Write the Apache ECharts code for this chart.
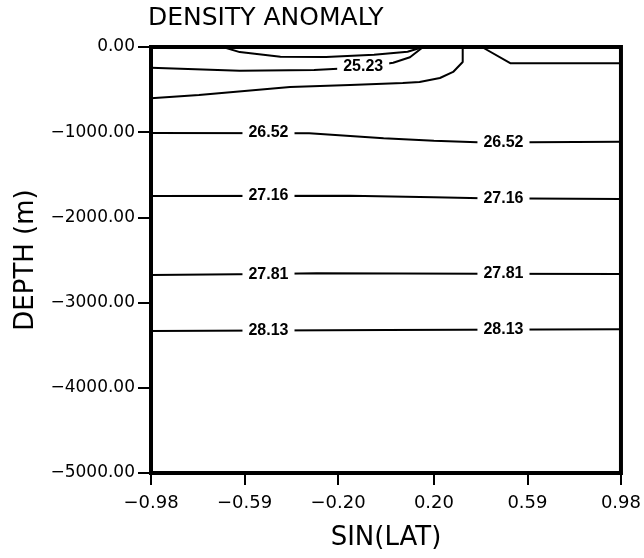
<!DOCTYPE html>
<html>
<head>
<meta charset="utf-8">
<script src="https://cdn.jsdelivr.net/npm/echarts@6/dist/echarts.min.js"></script>
<style>
  html, body { margin: 0; padding: 0; background: #fff; }
  #chart { width: 644px; height: 558px; }
</style>
</head>
<body>
<div id="chart"></div>
<script>
// Axis ticks
const xTicks = [-0.98, -0.59, -0.20, 0.20, 0.59, 0.98];
const depthMin = -5000;
const depthMax = 0;
const depthStep = 1000;

// Contour polylines, points are [sin(lat), depth in m]
const contourSurfaceA = [[-0.68, 0], [-0.61, -60], [-0.44, -115], [-0.25, -117], [-0.05, -90], [0.09, -55], [0.155, 0]];
const contour2523 = [[-0.98, -245], [-0.61, -278], [-0.30, -270], [-0.10, -240], [0.03, -185], [0.10, -120], [0.155, 0]];
const contourSurfaceB = [[-0.98, -602], [-0.78, -563], [-0.40, -470], [-0.15, -446], [0.07, -423], [0.14, -411], [0.225, -364], [0.28, -293], [0.32, -176], [0.32, 0]];
const contourNorth = [[0.40, 0], [0.52, -192], [0.98, -192]];
const contour2652 = [[-0.98, -1010], [-0.32, -1013], [-0.01, -1072], [0.20, -1100], [0.38, -1119], [0.60, -1119], [0.98, -1111]];
const contour2716 = [[-0.98, -1748], [-0.15, -1746], [0.20, -1764], [0.40, -1776], [0.98, -1785]];
const contour2781 = [[-0.98, -2675], [-0.50, -2665], [-0.29, -2656], [0.40, -2662], [0.98, -2664]];
const contour2813 = [[-0.98, -3333], [0.0, -3322], [0.98, -3314]];

// Inline contour labels: [text, sin(lat), depth]
const contourLabels = [
  ['25.23', -0.095, -235],
  ['26.52', -0.49, -1010],
  ['26.52', 0.49, -1124],
  ['27.16', -0.49, -1746],
  ['27.16', 0.49, -1778],
  ['27.81', -0.49, -2667],
  ['27.81', 0.49, -2662],
  ['28.13', -0.49, -3330],
  ['28.13', 0.49, -3316]
];

const contours = [contourSurfaceA, contour2523, contourSurfaceB, contourNorth,
                  contour2652, contour2716, contour2781, contour2813];

const fmt = v => (v < 0 ? '\u2212' : '') + Math.abs(v).toFixed(2);
const tickFont = 'DejaVu Sans';

const lineSeries = contours.map(pts => ({
  type: 'line',
  data: pts,
  showSymbol: false,
  symbol: 'none',
  silent: true,
  lineStyle: { color: '#000', width: 2 },
  z: 2
}));

// Contour values written on a white box that cuts the line
const labelSeries = {
  type: 'scatter',
  data: contourLabels.map(l => [l[1], l[2], l[0]]),
  symbolSize: 1,
  itemStyle: { color: 'rgba(0,0,0,0)', opacity: 1 },
  silent: true,
  z: 5,
  label: {
    show: true,
    position: 'inside',
    formatter: p => p.value[2],
    color: '#000',
    opacity: 1,
    textBorderWidth: 0,
    fontFamily: 'Liberation Sans',
    fontWeight: 'bold',
    fontSize: 16,
    backgroundColor: '#fff',
    padding: [1, 6]
  }
};

const chart = echarts.init(document.getElementById('chart'), null, { renderer: 'canvas' });
chart.setOption({
  animation: false,
  backgroundColor: '#fff',
  title: {
    text: 'DENSITY ANOMALY',
    left: 148,
    top: 6,
    padding: 0,
    textStyle: { fontFamily: tickFont, fontSize: 25, fontWeight: 'normal', color: '#000' }
  },
  grid: {
    left: 151, right: 23, top: 47, bottom: 85,
    show: true, borderColor: '#000', borderWidth: 4
  },
  xAxis: {
    type: 'value',
    min: -0.98,
    max: 0.98,
    name: 'SIN(LAT)',
    nameLocation: 'middle',
    nameGap: 52,
    nameTextStyle: { fontFamily: tickFont, fontSize: 26, color: '#000' },
    axisLine: { show: false, onZero: false },
    splitLine: { show: false },
    axisTick: { show: true, customValues: xTicks, length: 12, lineStyle: { color: '#000', width: 2 } },
    axisLabel: { customValues: xTicks, formatter: fmt, margin: 21, fontFamily: tickFont, fontSize: 18, color: '#000' }
  },
  yAxis: {
    type: 'value',
    min: depthMin,
    max: depthMax,
    interval: depthStep,
    name: 'DEPTH (m)',
    nameLocation: 'middle',
    nameRotate: 90,
    nameGap: 108,
    nameTextStyle: { fontFamily: tickFont, fontSize: 26, color: '#000' },
    axisLine: { show: false, onZero: false },
    splitLine: { show: false },
    axisTick: { show: true, length: 13, lineStyle: { color: '#000', width: 2 } },
    axisLabel: { formatter: fmt, margin: 16, fontFamily: tickFont, fontSize: 17, color: '#000' }
  },
  series: [...lineSeries, labelSeries]
});
</script>
</body>
</html>
